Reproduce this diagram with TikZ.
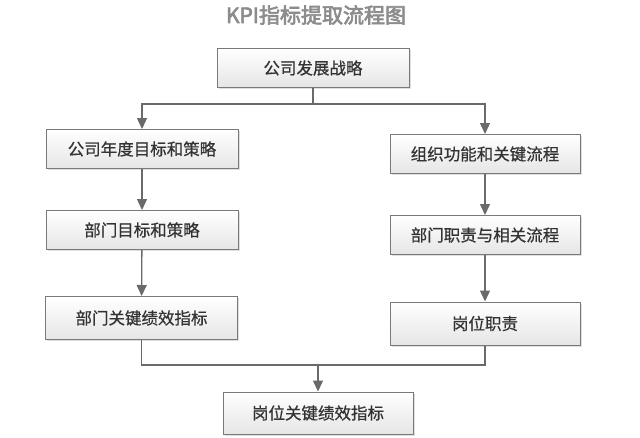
\documentclass[tikz,border=0pt]{standalone}
\usepackage{fontspec}
\newfontfamily\cjk[FakeBold=0.6]{Noto Sans CJK SC}
\newfontfamily\cjkb[FakeBold=3]{Noto Sans CJK SC}
\usetikzlibrary{shadows,arrows.meta}
\definecolor{linegray}{HTML}{6A6A6A}
\definecolor{textgray}{HTML}{333333}
\definecolor{titlegray}{HTML}{8C8C8C}
\tikzset{
  box/.style={draw=linegray!90, line width=1pt, top color=white, bottom color=black!10,
    minimum width=192pt, minimum height=39pt, inner sep=0pt,
    font=\cjk\fontsize{16.5}{19}\selectfont, text=textgray,
    drop shadow={opacity=0.25, shadow xshift=1.5pt, shadow yshift=-1.5pt}},
  conn/.style={draw=linegray, line width=1.3pt},
  arr/.style={conn, -{Triangle[length=11pt,width=10pt]}},
}
\begin{document}
\begin{tikzpicture}[x=1pt,y=-1pt]
\useasboundingbox[fill=white] (0,0) rectangle (640,437);
\node[font=\cjkb\fontsize{21}{25}\selectfont, text=titlegray] (title) at (316,15) {KPI指标提取流程图};
\node[box] (top) at (313,68) {公司发展战略};
\node[box] (L1) at (142,149) {公司年度目标和策略};
\node[box] (L2) at (142,230) {部门目标和策略};
\node[box, minimum height=43pt] (L3) at (141.5,318) {部门关键绩效指标};
\node[box, minimum width=190pt] (R1) at (485,154) {组织功能和关键流程};
\node[box, minimum width=190pt] (R2) at (485,235) {部门职责与相关流程};
\node[box, minimum width=190pt, minimum height=43pt] (R3) at (485,323.5) {岗位职责};
\node[box, minimum width=190pt, minimum height=42pt] (B) at (318,413) {岗位关键绩效指标};
\coordinate (s1) at (313,104);
\coordinate (m) at (318,365);
\draw[conn] (top.south) -- (s1);
\draw[arr] (s1) -| (L1.north);
\draw[arr] (s1) -| (R1.north);
\draw[arr] (L1) -- (L2);
\draw[arr] (L2) -- (L3);
\draw[arr] (R1) -- (R2);
\draw[arr] (R2) -- (R3);
\draw[conn] (L3.south) |- (m);
\draw[conn] (R3.south) |- (m);
\draw[arr] (m) -- (B.north);
\end{tikzpicture}
\end{document}
